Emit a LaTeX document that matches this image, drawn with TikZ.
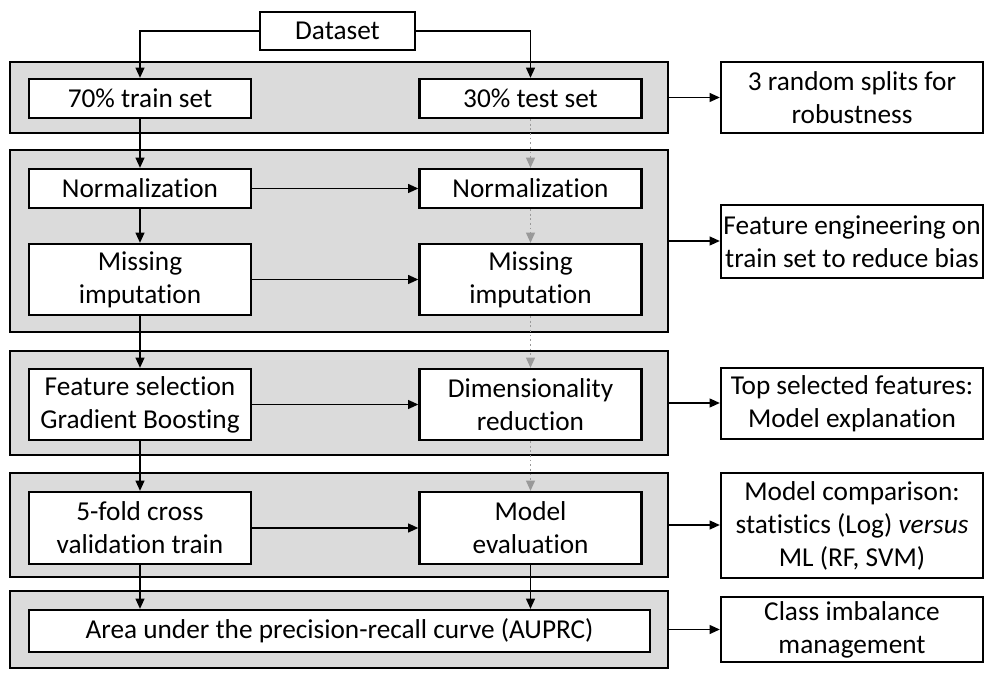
\documentclass[tikz,border=0pt]{standalone}
\usepackage{fontspec}
\setmainfont{Carlito}[Ligatures=NoCommon]
\usetikzlibrary{positioning,arrows.meta}

\begin{document}
\begin{tikzpicture}[x=0.025cm,y=-0.025cm,
    panel/.style={draw, fill=black!14, line width=1.5pt, inner sep=0pt},
    stepbox/.style={draw, fill=white, line width=1.5pt, align=center, inner sep=0pt,
    minimum width=5.55cm, font=\fontsize{19.4}{23.5}\selectfont},
    sidebox/.style={stepbox, minimum width=6.55cm},
    flow/.style={->, line width=1.4pt},
    testflow/.style={->, line width=1.3pt, draw=black!40, dotted},
    >={Triangle[length=2.6mm,width=2.2mm]}
]
  \useasboundingbox (0,0) rectangle (984,674);

  % grey panels
  \node[panel, minimum width=16.45cm, minimum height=1.775cm] (p1) at (339,97.5) {};
  \node[panel, minimum width=16.45cm, minimum height=4.55cm] (p2) at (339,241) {};
  \node[panel, minimum width=16.45cm, minimum height=2.6cm] (p3) at (339,403) {};
  \node[panel, minimum width=16.45cm, minimum height=2.6cm] (p4) at (339,525) {};
  \node[panel, minimum width=16.45cm, minimum height=1.925cm] (p5) at (339,629.5) {};

  \node[stepbox, minimum width=3.875cm, minimum height=0.95cm] (dataset) at (337.5,31) {Dataset};

  % train column
  \node[stepbox, minimum height=0.975cm] (train) at (140,98.5) {70\% train set};
  \node[stepbox, minimum height=0.975cm] (normtrain) at (140,188.5) {Normalization};
  \node[stepbox, minimum height=1.775cm] (misstrain) at (140,279.5) {Missing\\imputation};
  \node[stepbox, minimum height=1.775cm] (featsel) at (140,404.5) {Feature selection\\Gradient Boosting};
  \node[stepbox, minimum height=1.8cm] (cv) at (140,528) {5-fold cross\\validation train};

  % test column
  \node[stepbox, minimum height=0.975cm] (test) at (530.5,98.5) {30\% test set};
  \node[stepbox, minimum height=0.975cm] (normtest) at (530.5,188.5) {Normalization};
  \node[stepbox, minimum height=1.775cm] (misstest) at (530.5,279.5) {Missing\\imputation};
  \node[stepbox, minimum height=1.775cm] (dimred) at (530.5,404.5) {Dimensionality\\reduction};
  \node[stepbox, minimum height=1.8cm] (evaluation) at (530.5,528) {Model\\evaluation};

  \node[stepbox, minimum width=15.525cm, minimum height=1.05cm] (auprc) at (339.5,631) {Area under the precision-recall curve (AUPRC)};

  % notes on the right
  \node[sidebox, minimum height=1.775cm] (splits) at (852,97.5) {3 random splits for\\robustness};
  \node[sidebox, minimum height=1.825cm] (feateng) at (852,241.5) {Feature engineering on\\train set to reduce bias};
  \node[sidebox, minimum height=1.775cm] (topfeat) at (852,403.5) {Top selected features:\\Model explanation};
  \node[sidebox, minimum height=2.625cm] (comparison) at (852,525.5) {Model comparison:\\statistics (Log) \textit{versus}\\ML (RF, SVM)};
  \node[sidebox, minimum height=1.625cm] (imbalance) at (852,629.5) {Class imbalance\\management};

  \draw[flow] (dataset.west) -| (train.north);
  \draw[flow] (dataset.east) -| (test.north);
  \draw[flow] (train) -- (normtrain);
  \draw[flow] (normtrain) -- (misstrain);
  \draw[flow] (misstrain) -- (featsel);
  \draw[flow] (featsel) -- (cv);
  \draw[flow] (cv) -- (cv |- auprc.north);
  \draw[flow] (evaluation) -- (evaluation |- auprc.north);

  \draw[testflow] (test) -- (normtest);
  \draw[testflow] (normtest) -- (misstest);
  \draw[testflow] (misstest) -- (dimred);
  \draw[testflow] (dimred) -- (evaluation);

  \draw[flow] (normtrain) -- (normtest);
  \draw[flow] (misstrain) -- (misstest);
  \draw[flow] (featsel) -- (dimred);
  \draw[flow] (cv) -- (evaluation);

  \draw[flow] (p1.east) -- (p1.east -| splits.west);
  \draw[flow] (p2.east) -- (p2.east -| feateng.west);
  \draw[flow] (p3.east) -- (p3.east -| topfeat.west);
  \draw[flow] (p4.east) -- (p4.east -| comparison.west);
  \draw[flow] (p5.east) -- (p5.east -| imbalance.west);
\end{tikzpicture}
\end{document}
